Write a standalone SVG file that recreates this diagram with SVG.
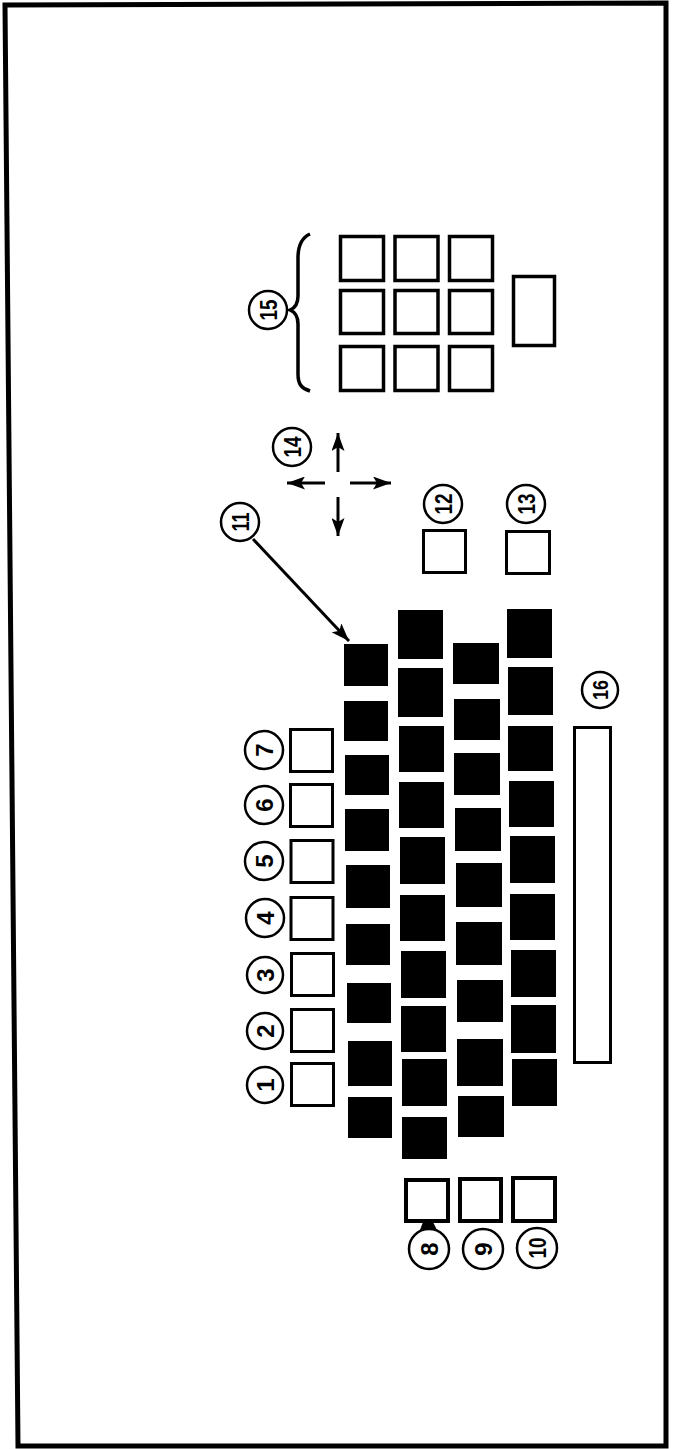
<svg xmlns="http://www.w3.org/2000/svg" width="679" height="1449" viewBox="0 0 679 1449">
<style>
.k{fill:#fff;stroke:#000;stroke-width:3}
.kn{fill:#fff;stroke:#000;stroke-width:3.5}
.kt{fill:#fff;stroke:#000;stroke-width:4}
.b{fill:#000}
.c{fill:#fff;stroke:#000;stroke-width:2.5}
.t{font-family:"Liberation Sans",Arial,sans-serif;font-weight:bold;font-size:24px;fill:#000;text-anchor:middle;dominant-baseline:central}
.ln{stroke:#000;stroke-width:3;fill:none}
</style>
<defs>
<marker id="ah" markerUnits="userSpaceOnUse" markerWidth="18" markerHeight="13" refX="18" refY="6.5" orient="auto">
<path d="M0,0 L18,6.5 L0,13 L4,6.5 z" fill="#000"/>
</marker>
</defs>
<rect x="0" y="0" width="679" height="1449" fill="#fff"/>
<path d="M5,5 L666,3 L666,1446 L18,1446 Z" fill="none" stroke="#000" stroke-width="5"/>

<g id="n15">
<rect class="kn" x="340.5" y="236.5" width="43" height="44"/>
<rect class="kn" x="395" y="236.5" width="43" height="44"/>
<rect class="kn" x="449.5" y="236.5" width="43" height="44"/>
<rect class="kn" x="340.5" y="290.5" width="43" height="43"/>
<rect class="kn" x="395" y="290.5" width="43" height="43"/>
<rect class="kn" x="449.5" y="290.5" width="43" height="43"/>
<rect class="kn" x="340.5" y="346.5" width="43" height="44"/>
<rect class="kn" x="395" y="346.5" width="43" height="44"/>
<rect class="kn" x="449.5" y="346.5" width="43" height="44"/>
<rect class="kn" x="513.5" y="276.5" width="41" height="69"/>
<path d="M310,234 C301,238 298,246 298,258 L298,296 C298,304 295,308 290,310 C295,312 298,316 298,324 L298,374 C298,384 301,388 310,391" fill="none" stroke="#000" stroke-width="3.5"/>
<circle class="c" cx="268" cy="310" r="19"/>
<text class="t" transform="translate(268,310) rotate(-90)" textLength="21" lengthAdjust="spacingAndGlyphs">15</text>
</g>

<g id="n14">
<circle class="c" cx="292" cy="447" r="19"/>
<text class="t" transform="translate(292,447) rotate(-90)" textLength="21" lengthAdjust="spacingAndGlyphs">14</text>
<line class="ln" x1="338" y1="472" x2="338" y2="433" marker-end="url(#ah)"/>
<line class="ln" x1="325" y1="483" x2="287" y2="483" marker-end="url(#ah)"/>
<line class="ln" x1="350" y1="483" x2="391" y2="483" marker-end="url(#ah)"/>
<line class="ln" x1="338" y1="497" x2="338" y2="536" marker-end="url(#ah)"/>
</g>

<g id="n12">
<circle class="c" cx="443" cy="504" r="19"/>
<text class="t" transform="translate(443,504) rotate(-90)" textLength="21" lengthAdjust="spacingAndGlyphs">12</text>
<rect class="k" x="423.5" y="530.5" width="42" height="42"/>
</g>
<g id="n13">
<circle class="c" cx="526" cy="504" r="19"/>
<text class="t" transform="translate(526,504) rotate(-90)" textLength="21" lengthAdjust="spacingAndGlyphs">13</text>
<rect class="k" x="506.5" y="531.5" width="43" height="42"/>
</g>

<g id="n11">
<circle class="c" cx="240" cy="522" r="19"/>
<text class="t" transform="translate(240,522) rotate(-90)" textLength="19" lengthAdjust="spacingAndGlyphs">11</text>
</g>

<g id="fkeys">
<g id="n7"><circle class="c" cx="264" cy="750" r="19"/><text class="t" transform="translate(264,750) rotate(-90)">7</text><rect class="k" x="290.5" y="729.5" width="42" height="42"/></g>
<g id="n6"><circle class="c" cx="264" cy="805" r="19"/><text class="t" transform="translate(264,805) rotate(-90)">6</text><rect class="k" x="290.5" y="784.5" width="42" height="42"/></g>
<g id="n5"><circle class="c" cx="264" cy="861" r="19"/><text class="t" transform="translate(264,861) rotate(-90)">5</text><rect class="k" x="291" y="840.5" width="42" height="42"/></g>
<g id="n4"><circle class="c" cx="265" cy="918" r="19"/><text class="t" transform="translate(265,918) rotate(-90)">4</text><rect class="k" x="291" y="897.5" width="42" height="42"/></g>
<g id="n3"><circle class="c" cx="265" cy="975" r="18"/><text class="t" transform="translate(265,975) rotate(-90)">3</text><rect class="k" x="291.5" y="953.5" width="42" height="42"/></g>
<g id="n2"><circle class="c" cx="265" cy="1031" r="18"/><text class="t" transform="translate(265,1031) rotate(-90)">2</text><rect class="k" x="291.5" y="1009.5" width="42" height="42"/></g>
<g id="n1"><circle class="c" cx="265" cy="1085" r="18"/><text class="t" transform="translate(265,1085) rotate(-90)">1</text><rect class="k" x="291.5" y="1063.5" width="42" height="42"/></g>
</g>

<g id="keys">
<rect class="b" x="344" y="644" width="44" height="42"/>
<rect class="b" x="344" y="701" width="44" height="40"/>
<rect class="b" x="345" y="755" width="44" height="40"/>
<rect class="b" x="345" y="809" width="44" height="42"/>
<rect class="b" x="346" y="865" width="44" height="43"/>
<rect class="b" x="346" y="924" width="44" height="41"/>
<rect class="b" x="347" y="983" width="44" height="40"/>
<rect class="b" x="348" y="1041" width="44" height="45"/>
<rect class="b" x="348" y="1097" width="44" height="41"/>

<rect class="b" x="398" y="610" width="45" height="49"/>
<rect class="b" x="398" y="668" width="45" height="49"/>
<rect class="b" x="399" y="726" width="45" height="46"/>
<rect class="b" x="399" y="782" width="45" height="46"/>
<rect class="b" x="400" y="837" width="45" height="47"/>
<rect class="b" x="400" y="895" width="45" height="46"/>
<rect class="b" x="401" y="951" width="45" height="47"/>
<rect class="b" x="401" y="1006" width="45" height="46"/>
<rect class="b" x="402" y="1059" width="45" height="47"/>
<rect class="b" x="402" y="1117" width="45" height="42"/>

<rect class="b" x="453" y="643" width="46" height="41"/>
<rect class="b" x="454" y="699" width="46" height="41"/>
<rect class="b" x="454" y="753" width="46" height="42"/>
<rect class="b" x="455" y="808" width="46" height="43"/>
<rect class="b" x="456" y="863" width="46" height="44"/>
<rect class="b" x="456" y="922" width="46" height="43"/>
<rect class="b" x="457" y="980" width="46" height="42"/>
<rect class="b" x="457" y="1039" width="46" height="47"/>
<rect class="b" x="458" y="1096" width="46" height="41"/>

<rect class="b" x="507" y="609" width="45" height="49"/>
<rect class="b" x="508" y="667" width="45" height="48"/>
<rect class="b" x="508" y="726" width="45" height="45"/>
<rect class="b" x="509" y="781" width="45" height="46"/>
<rect class="b" x="510" y="836" width="45" height="47"/>
<rect class="b" x="510" y="894" width="45" height="46"/>
<rect class="b" x="511" y="950" width="45" height="47"/>
<rect class="b" x="511" y="1005" width="45" height="48"/>
<rect class="b" x="512" y="1059" width="45" height="47"/>
</g>

<g id="n16">
<circle class="c" cx="600" cy="690" r="18"/>
<text class="t" transform="translate(600,690) rotate(-90)" textLength="20" lengthAdjust="spacingAndGlyphs" style="font-size:22px">16</text>
<rect class="k" x="574.5" y="727.5" width="36" height="335"/>
</g>

<g id="n8">
<rect class="kt" x="406" y="1180" width="42" height="41"/>
<path d="M423,1222 L433,1222 L437,1230 L420,1230 Z" fill="#000"/>
<circle class="c" cx="429" cy="1249" r="20"/>
<text class="t" transform="translate(429,1249) rotate(-90)">8</text>
</g>
<g id="n9">
<rect class="kt" x="460" y="1179" width="41" height="42"/>
<circle class="c" cx="483" cy="1249" r="20"/>
<text class="t" transform="translate(483,1249) rotate(-90)">9</text>
</g>
<g id="n10">
<rect class="kt" x="513" y="1178" width="42" height="43"/>
<circle class="c" cx="537" cy="1248" r="20"/>
<text class="t" transform="translate(537,1248) rotate(-90)" textLength="21" lengthAdjust="spacingAndGlyphs">10</text>
</g>

<g id="connectors">
<line class="ln" x1="253" y1="539" x2="349" y2="641" marker-end="url(#ah)"/>
</g>
</svg>
